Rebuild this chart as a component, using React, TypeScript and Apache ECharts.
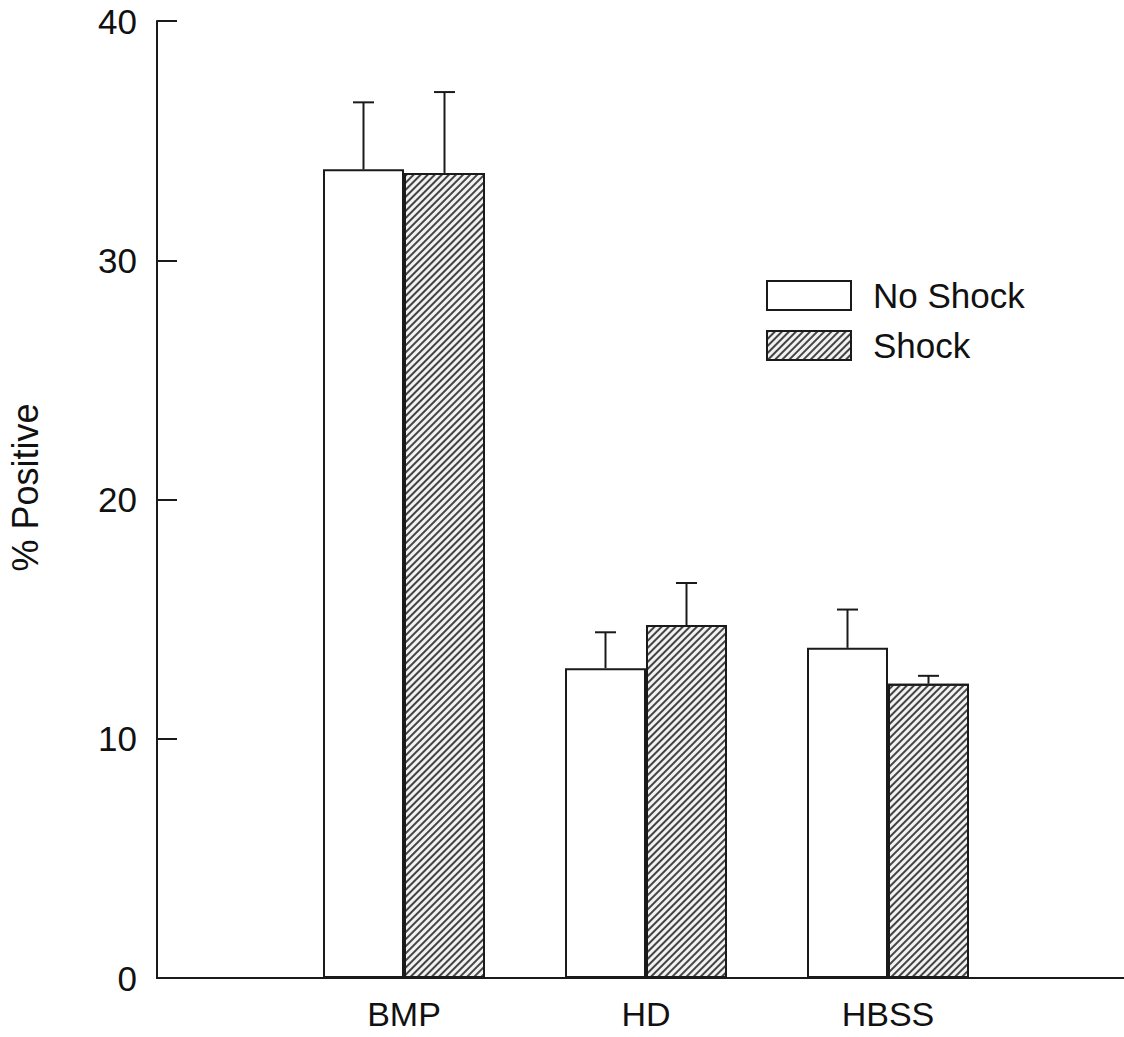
import React, { useEffect, useRef } from "react";
import * as echarts from "echarts";

const categories = ["", "BMP", "HD", "HBSS", ""];
const noShock = [null, 33.8, 12.95, 13.8, null];
const noShockErr = [null, 2.8, 1.5, 1.6, null];
const shock = [null, 33.65, 14.75, 12.3, null];
const shockErr = [null, 3.38, 1.76, 0.33, null];
const yTicks = [0, 10, 20, 30, 40];

const FONT = "Liberation Sans, Arial, sans-serif";
const BAR_W = 81;

export default function App() {
  const ref = useRef<HTMLDivElement>(null);
  useEffect(() => {
    document.body.style.margin = "0";
    const chart = echarts.init(ref.current!, null, { renderer: "svg" });
    const errData: any[] = [];
    categories.forEach((_, i) => {
      if (noShock[i] != null) errData.push([i, noShock[i], noShockErr[i], -1]);
      if (shock[i] != null) errData.push([i, shock[i], shockErr[i], 1]);
    });
    chart.setOption({
      animation: false,
      backgroundColor: "#fff",
      grid: { left: 162, width: 968, top: 21, bottom: 59, containLabel: false, outerBoundsMode: "none" },
      legend: {
        orient: "vertical",
        left: 761,
        top: 273,
        itemWidth: 84,
        itemHeight: 29,
        itemGap: 15,
        icon: "rect",
        selectedMode: false,
        textStyle: { fontFamily: FONT, fontSize: 35, color: "#111", padding: [0, 0, 0, 17] },
        data: ["No Shock", "Shock"],
      },
      xAxis: {
        type: "category",
        data: categories,
        boundaryGap: false,
        axisLine: { lineStyle: { color: "#1a1a1a", width: 2 } },
        axisTick: { show: false },
        axisLabel: { fontFamily: FONT, fontSize: 34, color: "#111", margin: 19 },
        splitLine: { show: false },
      },
      yAxis: {
        type: "value",
        min: 0,
        max: 40,
        interval: 10,
        offset: 5,
        name: "% Positive",
        nameLocation: "middle",
        nameGap: 114,
        nameTextStyle: { fontFamily: FONT, fontSize: 36, color: "#111", padding: [0, 0, 0, 24] },
        axisLine: { show: true, lineStyle: { color: "#1a1a1a", width: 2 } },
        axisTick: { show: true, inside: true, length: 20, lineStyle: { color: "#1a1a1a", width: 2 } },
        axisLabel: { fontFamily: FONT, fontSize: 35, color: "#111", margin: 20 },
        splitLine: { show: false },
      },
      graphic: [
        {
          type: "line",
          shape: { x1: 156, y1: 978, x2: 164, y2: 978 },
          style: { stroke: "#1a1a1a", lineWidth: 2 },
          z: 10,
        },
      ],
      series: [
        {
          name: "No Shock",
          type: "bar",
          data: noShock,
          barWidth: BAR_W,
          barGap: "0%",
          itemStyle: { color: "#ffffff", borderColor: "#1a1a1a", borderWidth: 2 },
        },
        {
          name: "Shock",
          type: "bar",
          data: shock,
          barWidth: BAR_W,
          barGap: "0%",
          itemStyle: {
            color: "#f2f2f2",
            borderColor: "#1a1a1a",
            borderWidth: 2,
            decal: {
              symbol: "rect",
              symbolSize: 1,
              color: "#444",
              dashArrayX: [1, 0],
              dashArrayY: [1.6, 2.8],
              rotation: -Math.PI / 4,
            },
          },
        },
        {
          type: "custom",
          name: "err",
          data: errData,
          z: 5,
          renderItem: (params: any, api: any) => {
            const x = api.value(0);
            const v = api.value(1);
            const e = api.value(2);
            const side = api.value(3);
            const base = api.coord([x, v]);
            const top = api.coord([x, v + e]);
            const cx = base[0] + side * (BAR_W / 2);
            const style = { stroke: "#1a1a1a", lineWidth: 2 };
            return {
              type: "group",
              children: [
                { type: "line", shape: { x1: cx, y1: base[1], x2: cx, y2: top[1] }, style },
                { type: "line", shape: { x1: cx - 10.5, y1: top[1], x2: cx + 10.5, y2: top[1] }, style },
              ],
            };
          },
        },
      ],
    });
    return () => chart.dispose();
  }, []);
  return <div ref={ref} style={{ width: 1124, height: 1037 }} />;
}
